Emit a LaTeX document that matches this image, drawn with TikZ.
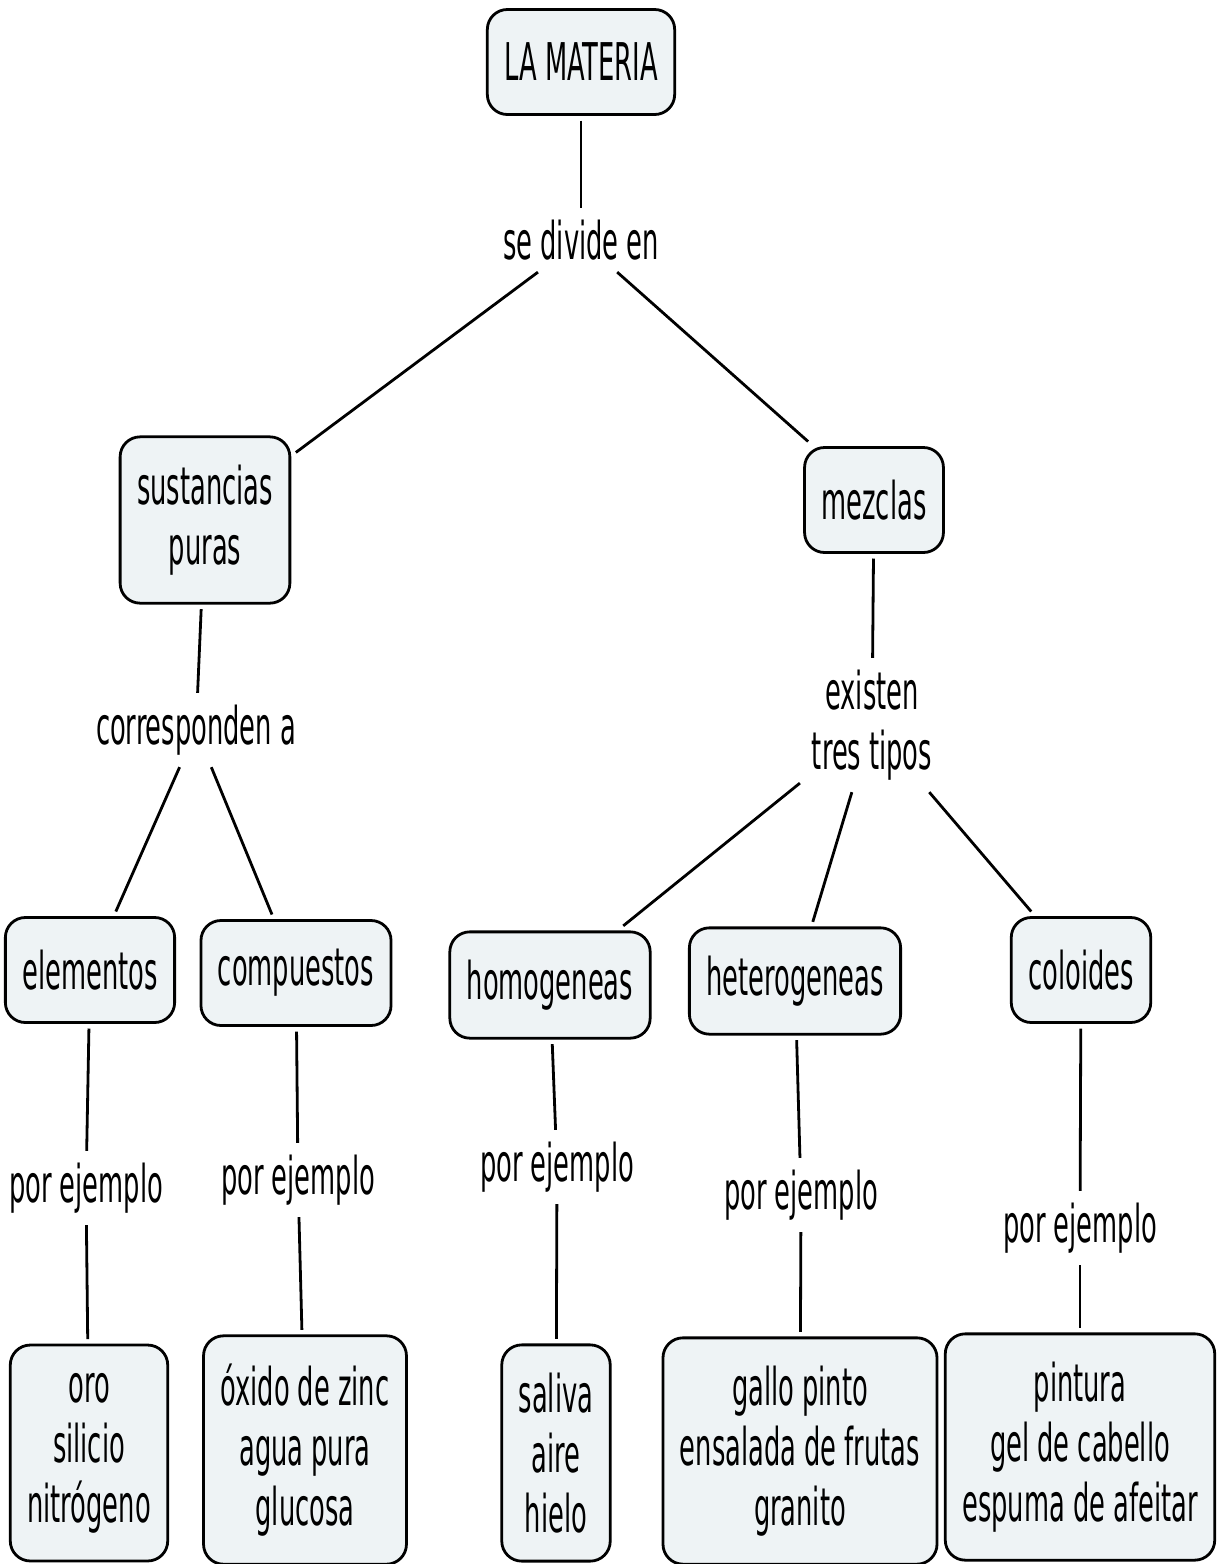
\documentclass[tikz,border=0pt]{standalone}
\usepackage{fontspec}
\setmainfont{DejaVu Sans Condensed}[FakeStretch=0.55]
\usepackage{tikz}

\definecolor{conceptfill}{HTML}{EEF3F5}

\tikzset{
    concept/.style={draw, line width=2.8pt, rounded corners=20pt, fill=conceptfill,
        inner xsep=17pt, inner ysep=28pt, minimum height=105pt, outer sep=6pt,
        align=center, font=\fontsize{52}{60}\selectfont},
    linkword/.style={inner sep=6pt, outer sep=6pt, align=center,
        font=\fontsize{52}{60}\selectfont},
    link/.style={line width=2.8pt}
}

\begin{document}
\begin{tikzpicture}[x=1pt, y=-1pt]
    \useasboundingbox (0,0) rectangle (1217,1564);
    % Define nodes
        \node[concept] (materia) at (581,62) {LA MATERIA};
        \node[linkword] (divide) at (581,240) {se divide en};
        \node[concept] (puras) at (205,520) {sustancias\\puras};
        \node[concept] (mezclas) at (874,500) {mezclas};
        \node[linkword] (corresponden) at (196,730) {corresponden a};
        \node[linkword] (existen) at (872,725) {existen\\tres tipos};
        \node[concept] (elementos) at (90,970) {elementos};
        \node[concept] (compuestos) at (296,973) {compuestos};
        \node[concept] (homogeneas) at (550,985) {homogeneas};
        \node[concept] (heterogeneas) at (795,981) {heterogeneas};
        \node[concept] (coloides) at (1081,970) {coloides};
        \node[linkword] (ej1) at (86,1188) {por ejemplo};
        \node[linkword] (ej2) at (298,1180) {por ejemplo};
        \node[linkword] (ej3) at (557,1167) {por ejemplo};
        \node[linkword] (ej4) at (801,1195) {por ejemplo};
        \node[linkword] (ej5) at (1080,1228) {por ejemplo};
        \node[concept] (oro) at (89,1453) {oro\\silicio\\nitrógeno};
        \node[concept] (oxido) at (305,1450) {óxido de zinc\\agua pura\\glucosa};
        \node[concept] (saliva) at (556,1453) {saliva\\aire\\hielo};
        \node[concept] (gallo) at (800,1451) {gallo pinto\\ensalada de frutas\\granito};
        \node[concept] (pintura) at (1080,1447) {pintura\\gel de cabello\\espuma de afeitar};
        % Draw lines
        \draw[link] (materia) -- (divide);
        \draw[link] (divide) -- (puras);
        \draw[link] (divide) -- (mezclas);
        \draw[link] (puras) -- (corresponden);
        \draw[link] (mezclas) -- (existen);
        \draw[link] (corresponden) -- (elementos);
        \draw[link] (corresponden) -- (compuestos);
        \draw[link] (existen) -- (homogeneas);
        \draw[link] (existen) -- (heterogeneas);
        \draw[link] (existen) -- (coloides);
        \draw[link] (elementos) -- (ej1);
        \draw[link] (ej1) -- (oro);
        \draw[link] (compuestos) -- (ej2);
        \draw[link] (ej2) -- (oxido);
        \draw[link] (homogeneas) -- (ej3);
        \draw[link] (ej3) -- (saliva);
        \draw[link] (heterogeneas) -- (ej4);
        \draw[link] (ej4) -- (gallo);
        \draw[link] (coloides) -- (ej5);
        \draw[link] (ej5) -- (pintura);
    \end{tikzpicture}
\end{document}
